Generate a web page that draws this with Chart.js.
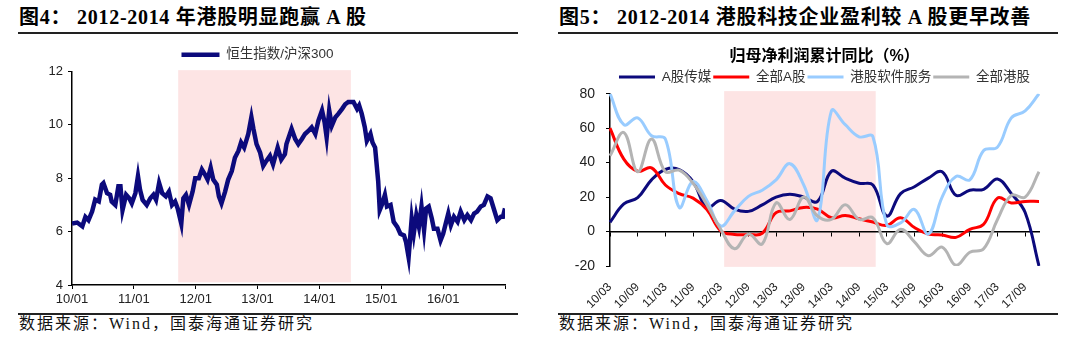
<!DOCTYPE html>
<html>
<head>
<meta charset="utf-8">
<script src="https://cdn.jsdelivr.net/npm/chart.js@4.4.1/dist/chart.umd.min.js"></script>
<style>
  html, body { margin: 0; padding: 0; background: #fff; }
  body { width: 1080px; height: 343px; position: relative; overflow: hidden; }
  .title { position: absolute; top: 7px; font: bold 20px/20px "Liberation Serif", "Noto Sans CJK SC", serif; letter-spacing: 0.7px; color: #000; white-space: nowrap; }
  .title span { margin-right: 6px; }
  .rule { position: absolute; height: 0; border-top: 2px solid #222; }
  .source { position: absolute; top: 316px; font: 16px/16px "Liberation Serif", "Noto Sans CJK SC", serif; letter-spacing: 2px; color: #111; white-space: nowrap; }
  .box { position: absolute; top: 40px; width: 540px; height: 272px; }
</style>
</head>
<body>
<div class="title" style="left:19px"><span>图4：</span>2012-2014 年港股明显跑赢 A 股</div>
<div class="title" style="left:559px"><span>图5：</span>2012-2014 港股科技企业盈利较 A 股更早改善</div>
<div class="rule" style="left:18px;width:500px;top:32px"></div>
<div class="rule" style="left:558px;width:500px;top:32px"></div>
<div class="box" style="left:0"><canvas id="hkChart"></canvas></div>
<div class="box" style="left:540px"><canvas id="profitChart"></canvas></div>
<div class="rule" style="left:18px;width:500px;top:313px"></div>
<div class="rule" style="left:558px;width:500px;top:313px"></div>
<div class="source" style="left:19px">数据来源：Wind，国泰海通证券研究</div>
<div class="source" style="left:559px">数据来源：Wind，国泰海通证券研究</div>

<script>
// fig 4: HSI / CSI300, x = months since 2010-01
const ratioMonths = [0, 1, 2, 2.6, 3.2, 3.9, 4.5, 5.2, 5.8, 6.1, 6.8, 7.4, 7.7, 8.4, 9.0, 9.4, 9.8, 10.5, 11.1, 11.6,
  12.3, 12.8, 13.2, 13.7, 14.5, 15.2, 15.8, 16.3, 16.9, 17.5, 18.2, 18.8, 19.4, 20.0, 20.5, 21.2, 21.6, 22.1, 22.7, 23.4,
  23.9, 24.6, 25.2, 25.8, 26.3, 26.9, 27.4, 28.1, 28.5, 29.0, 29.7, 30.3, 31.0, 31.6, 32.3, 32.8, 33.4, 34.2, 34.8, 35.2,
  35.8, 36.5, 37.1, 37.7, 38.4, 39.0, 39.9, 40.6, 41.3, 41.6, 42.6, 43.3, 43.9, 44.6, 45.2, 45.9, 46.5, 47.2, 47.8, 48.5,
  49.0, 49.4, 49.9, 50.4, 51.1, 51.7, 52.4, 53.0, 53.6, 54.6, 55.3, 55.7, 56.2, 56.8, 57.2, 57.9, 58.3, 58.8, 59.4, 59.7,
  60.1, 60.7, 61.1, 61.8, 62.4, 63.1, 63.7, 64.4, 64.8, 65.3, 65.9, 66.3, 66.8, 67.3, 67.8, 68.3, 68.7, 69.2, 69.8, 70.2,
  70.9, 71.5, 72.0, 72.5, 73.0, 73.5, 74.1, 74.8, 75.4, 76.1, 76.7, 77.4, 78.0, 78.6, 79.3, 79.9, 80.6, 81.2, 81.9, 82.5,
  83.2, 83.6, 84.0];
const ratioValues = [6.3, 6.34, 6.2, 6.55, 6.43, 6.75, 7.2, 7.13, 7.76, 7.82, 7.44, 7.38, 7.13, 7.0, 7.7, 7.7, 6.8, 7.38, 7.25, 7.06,
  7.44, 8.08, 7.57, 7.19, 7.0, 7.25, 7.38, 7.19, 7.82, 7.44, 7.32, 7.5, 7.0, 7.13, 6.87, 6.3, 7.25, 7.38, 7.0, 7.5,
  8.0, 8.0, 8.33, 8.14, 7.95, 8.39, 7.95, 7.76, 7.32, 7.06, 7.5, 7.95, 8.27, 8.77, 9.03, 9.34, 9.15, 9.66, 10.29, 9.85,
  9.28, 8.96, 8.46, 8.65, 8.84, 8.52, 9.15, 8.7, 8.9, 9.28, 9.85, 9.47, 9.28, 9.47, 9.66, 9.78, 9.91, 9.66, 10.16, 10.54,
  10.1, 9.53, 10.54, 9.97, 10.29, 10.42, 10.6, 10.77, 10.86, 10.86, 10.6, 10.73, 10.42, 9.91, 9.4, 9.66, 9.34, 9.15, 7.89, 6.81,
  7.0, 7.38, 6.94, 7.0, 6.37, 6.18, 5.92, 5.86, 5.61, 5.04, 6.49, 5.92, 6.62, 6.18, 6.94, 6.05, 6.87, 6.94, 6.49, 6.11,
  6.11, 5.67, 5.92, 6.3, 6.68, 6.24, 6.56, 6.37, 6.75, 6.43, 6.62, 6.43, 6.68, 6.75, 6.94, 7.0, 7.32, 7.25, 6.81, 6.43,
  6.56, 6.56, 6.87];
const yearTicks = [0, 12, 24, 36, 48, 60, 72, 84];
const yearLabels = ['10/01', '11/01', '12/01', '13/01', '14/01', '15/01', '16/01', ''];
const hkShade = [20.6, 54.1];   // 2011-09 .. 2014-07

// fig 5: cumulative net profit yoy (%), quarterly
const quarters = ['10/03', '10/06', '10/09', '10/12', '11/03', '11/06', '11/09', '11/12',
  '12/03', '12/06', '12/09', '12/12', '13/03', '13/06', '13/09', '13/12',
  '14/03', '14/06', '14/09', '14/12', '15/03', '15/06', '15/09', '15/12',
  '16/03', '16/06', '16/09', '16/12', '17/03', '17/06', '17/09', '17/12'];
const mediaA = [5.4, 16, 19.7, 30, 36, 36, 29, 14, 18, 13, 11.7, 15.5, 20, 21.6, 20, 17.5,
  35, 31, 28, 27, 9, 22, 26, 31, 34.7, 21, 24, 24.5, 30.5, 22, 11, -20];
const allA = [60, 42, 35, 37, 27, 22, 19.4, 12.8, 0.4, -1.7, -1.7, -1, 11, 12, 14, 13,
  8, 9.3, 7.4, 5.5, 3.6, 8, 2.3, -1.5, -2, -3.4, 1.3, 4.2, 19.4, 16.6, 17.5, 17.5];
const hkSoftware = [80, 62, 66, 55.6, 53.7, 14, 29, 18, 3.2, 12, 20.4, 24, 30, 39.4, 27, 7,
  70, 62, 55, 55, 4, 5, 12.8, -1.5, 20, 32, 30, 47, 49, 66, 70, 80];
const allHK = [44, 57.5, 34.7, 53.7, 34.7, 35.6, 28, 15.6, 1.3, -10, -1.5, -7.2, 16.6, 7, 20, 9,
  7, 15.6, 7, 8, -7, 1.3, -6, -14, -9, -19.6, -12, -10, 7, 21, 20, 34.7];
const profitShade = [8.25, 19.2];

Chart.defaults.font.family = '"Liberation Sans", "Noto Sans CJK SC", sans-serif';
Chart.defaults.color = '#222';

function shadePlugin(range, yTop, yBottom) {
  return {
    id: 'shade',
    beforeDraw(chart) {
      const { ctx, scales: { x, y } } = chart;
      const x1 = x.getPixelForValue(range[0]);
      const x2 = x.getPixelForValue(range[1]);
      const top = y.getPixelForValue(yTop);
      const bottom = y.getPixelForValue(yBottom);
      ctx.save();
      ctx.fillStyle = 'rgb(253,228,228)';
      ctx.fillRect(x1, top, x2 - x1, bottom - top);
      ctx.restore();
    }
  };
}

const axisLine = { display: true, color: '#000', width: 1.5 };
const tickGrid = { drawOnChartArea: false, drawTicks: true, tickLength: 4, color: '#000' };

new Chart(document.getElementById('hkChart'), {
  type: 'line',
  data: {
    datasets: [{
      label: '恒生指数/沪深300',
      data: ratioMonths.map((m, i) => ({ x: m, y: ratioValues[i] })),
      borderColor: '#0c0a7c',
      backgroundColor: '#0c0a7c',
      borderWidth: 4.5,
      pointRadius: 0,
      tension: 0
    }]
  },
  options: {
    responsive: true,
    maintainAspectRatio: false,
    animation: false,
    layout: { padding: { left: 10, right: 35, top: 0, bottom: 0 } },
    plugins: {
      legend: {
        labels: {
          usePointStyle: true, pointStyle: 'line', pointStyleWidth: 38,
          font: { size: 13.5 }, color: '#333', padding: 8
        }
      },
      tooltip: { enabled: false }
    },
    scales: {
      x: {
        type: 'linear', min: 0, max: 84,
        afterBuildTicks: s => { s.ticks = yearTicks.map(v => ({ value: v })); },
        afterFit: s => { s.height = 27; },
        ticks: { callback: (v, i) => yearLabels[i], font: { size: 13 }, padding: 3, maxRotation: 0 },
        grid: tickGrid, border: axisLine
      },
      y: {
        min: 4, max: 12,
        afterFit: s => { s.width = 62; },
        ticks: { stepSize: 2, font: { size: 13 }, padding: 5 },
        grid: tickGrid, border: axisLine
      }
    }
  },
  plugins: [shadePlugin(hkShade, 12.05, 4.1)]
});

const seriesStyle = (label, data, color, order) => ({
  label, data, order,
  borderColor: color, backgroundColor: color,
  borderWidth: 3, pointRadius: 0, tension: 0.4
});

new Chart(document.getElementById('profitChart'), {
  type: 'line',
  data: {
    labels: quarters,
    datasets: [
      seriesStyle('A股传媒', mediaA, '#0c0a7c', 4),
      seriesStyle('全部A股', allA, '#ff0000', 3),
      seriesStyle('港股软件服务', hkSoftware, '#99ccff', 2),
      seriesStyle('全部港股', allHK, '#b4b4b4', 1)
    ]
  },
  options: {
    responsive: true,
    maintainAspectRatio: false,
    animation: false,
    layout: { padding: { left: 20, right: 41, top: 0, bottom: 0 } },
    plugins: {
      title: {
        display: true, fullSize: false, text: '归母净利润累计同比（%）', color: '#000',
        font: { size: 16, weight: 'bold' }, padding: { top: 7, bottom: 2 }
      },
      legend: {
        fullSize: false,
        labels: {
          usePointStyle: true, pointStyle: 'line', pointStyleWidth: 36,
          font: { size: 13.5 }, color: '#333', padding: 2,
          sort: (a, b) => a.datasetIndex - b.datasetIndex
        }
      },
      tooltip: { enabled: false }
    },
    scales: {
      x: {
        afterFit: s => { s.height = 46; },
        ticks: {
          autoSkip: false, minRotation: 45, maxRotation: 45, font: { size: 12 }, padding: 6,
          callback: (v, i) => (i % 2 ? '' : quarters[i])
        },
        grid: { display: false }, border: { display: false }
      },
      zero: {
        type: 'category', axis: 'x', position: { y: 0 },
        ticks: { display: false, autoSkip: false },
        grid: { drawOnChartArea: false, drawTicks: true, tickLength: 4,
          tickColor: c => (c.index % 2 ? 'rgba(0,0,0,0)' : '#000') },
        border: axisLine
      },
      y: {
        min: -20, max: 80,
        afterFit: s => { s.width = 50; },
        ticks: { stepSize: 20, font: { size: 14 }, padding: 11 },
        grid: tickGrid, border: axisLine
      }
    }
  },
  plugins: [shadePlugin(profitShade, 81.5, -20.5)]
});
</script>
</body>
</html>
